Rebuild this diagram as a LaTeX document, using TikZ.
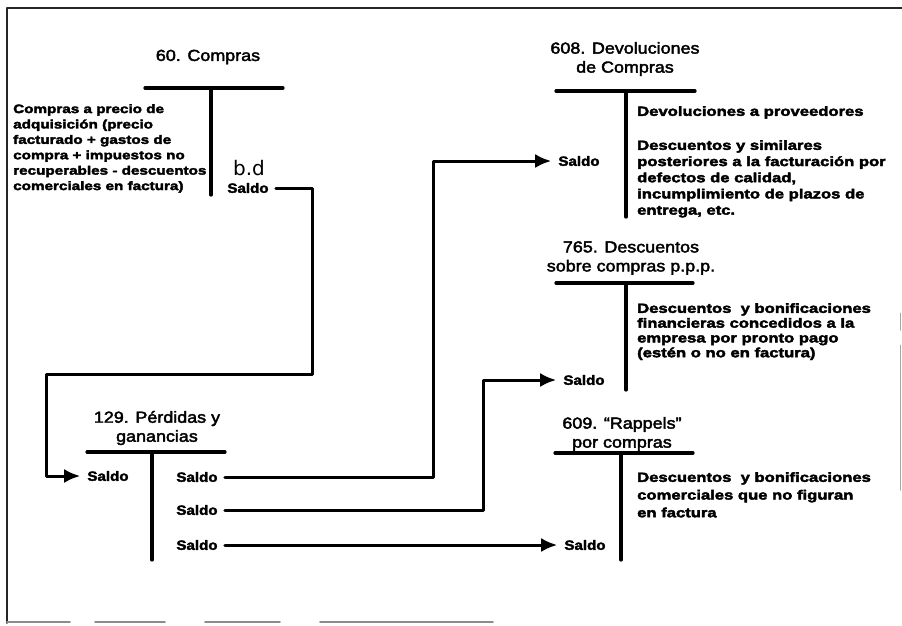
\documentclass[tikz,border=0pt]{standalone}
\usepackage{fontspec}
\setmainfont{Liberation Sans}
\newfontfamily\cuerpo[FakeStretch=1.25,FakeBold=3]{Liberation Sans}
\newfontfamily\cabecera[FakeStretch=1.12,FakeBold=2.5]{Liberation Sans}
\newfontfamily\mano{DejaVu Sans}
\usetikzlibrary{arrows.meta}
\tikzset{
  titulo/.style={font=\cabecera\fontsize{16}{19}\selectfont, align=center, inner sep=0pt},
  texto/.style 2 args={font=\cuerpo\bfseries\fontsize{#1}{#2}\selectfont, align=left, anchor=north west, inner sep=0pt},
  saldo/.style={font=\cabecera\bfseries\fontsize{13.5}{15}\selectfont, inner xsep=7pt, inner ysep=0pt},
  cuenta/.style={line width=3.2pt},
  enlace/.style={line width=3pt, ->},
  marco/.style={line width=1.8pt, black!85},
}
\begin{document}
\begin{tikzpicture}[x=1pt, y=-1pt, line join=round, line cap=round, >={Latex[length=16pt,width=14pt]}]
\useasboundingbox (0,0) rectangle (902,625);
% marco
\draw[marco] (7,623) -- (7,8) -- (902,8);
\draw[marco, black!45] (7,622) -- (70,622) (95,622) -- (165,622) (205,622) -- (280,622) (320,622) -- (493,622);
\draw[marco, black!35, line width=1pt] (900,313) -- (900,330) (900,345) -- (900,490);
% 60. Compras
\node[titulo] (t60) at (208,57) {60. Compras};
\draw[cuenta] (145,88) -- (283,88) (211,88) -- (211,195);
\node[texto={12.2}{15.4}] (d60) at (13,104) {Compras a precio de\\adquisición (precio\\facturado + gastos de\\compra + impuestos no\\recuperables - descuentos\\comerciales en factura)};
\node[font=\mano\fontsize{20}{20}\selectfont, inner sep=0pt] (bd) at (249,168) {b.d};
\node[saldo] (s60) at (248,188) {Saldo};
% 129. Perdidas y ganancias
\node[titulo] (t129) at (157,428) {129. Pérdidas y\\ganancias};
\draw[cuenta] (87,452) -- (225,452) (152,452) -- (152,560);
\node[saldo] (s129i) at (108,476) {Saldo};
\node[saldo] (s129a) at (197,477) {Saldo};
\node[saldo] (s129b) at (197,510) {Saldo};
\node[saldo] (s129c) at (197,545) {Saldo};
% 608. Devoluciones de compras
\node[titulo] (t608) at (625,59) {608. Devoluciones\\de Compras};
\draw[cuenta] (556,91) -- (695,91) (626,91) -- (626,217);
\node[texto={13.3}{16.2}] (d608a) at (637,106) {Devoluciones a proveedores};
\node[texto={13.3}{16.2}] (d608b) at (637,140) {Descuentos y similares\\posteriores a la facturación por\\defectos de calidad,\\incumplimiento de plazos de\\entrega, etc.};
\node[saldo] (s608) at (579,161) {Saldo};
% 765. Descuentos sobre compras
\node[titulo] (t765) at (631,258) {765. Descuentos\\sobre compras p.p.p.};
\draw[cuenta] (556,283) -- (693,283) (626,283) -- (626,390);
\node[texto={13.3}{14.8}] (d765) at (637,303) {Descuentos\ \ y bonificaciones\\financieras concedidos a la\\empresa por pronto pago\\(estén o no en factura)};
\node[saldo] (s765) at (584,380) {Saldo};
% 609. Rappels por compras
\node[titulo] (t609) at (622,434) {609. “Rappels”\\por compras};
\draw[cuenta] (555,453) -- (693,453) (621,453) -- (621,560);
\node[texto={13.3}{17.7}] (d609) at (637,472) {Descuentos\ \ y bonificaciones\\comerciales que no figuran\\en factura};
\node[saldo] (s609) at (585,545) {Saldo};
% enlaces
\coordinate (c1) at (312,374);
\coordinate (c2) at (46,374);
\coordinate (c3) at (433,0);
\coordinate (c4) at (483,0);
\draw[enlace] (s60) -| (c1) -- (c2) |- (s129i);
\draw[enlace] (s129a) -| (c3 |- s608) -- (s608);
\draw[enlace] (s129b) -| (c4 |- s765) -- (s765);
\draw[enlace] (s129c) -- (s609);
\end{tikzpicture}
\end{document}
